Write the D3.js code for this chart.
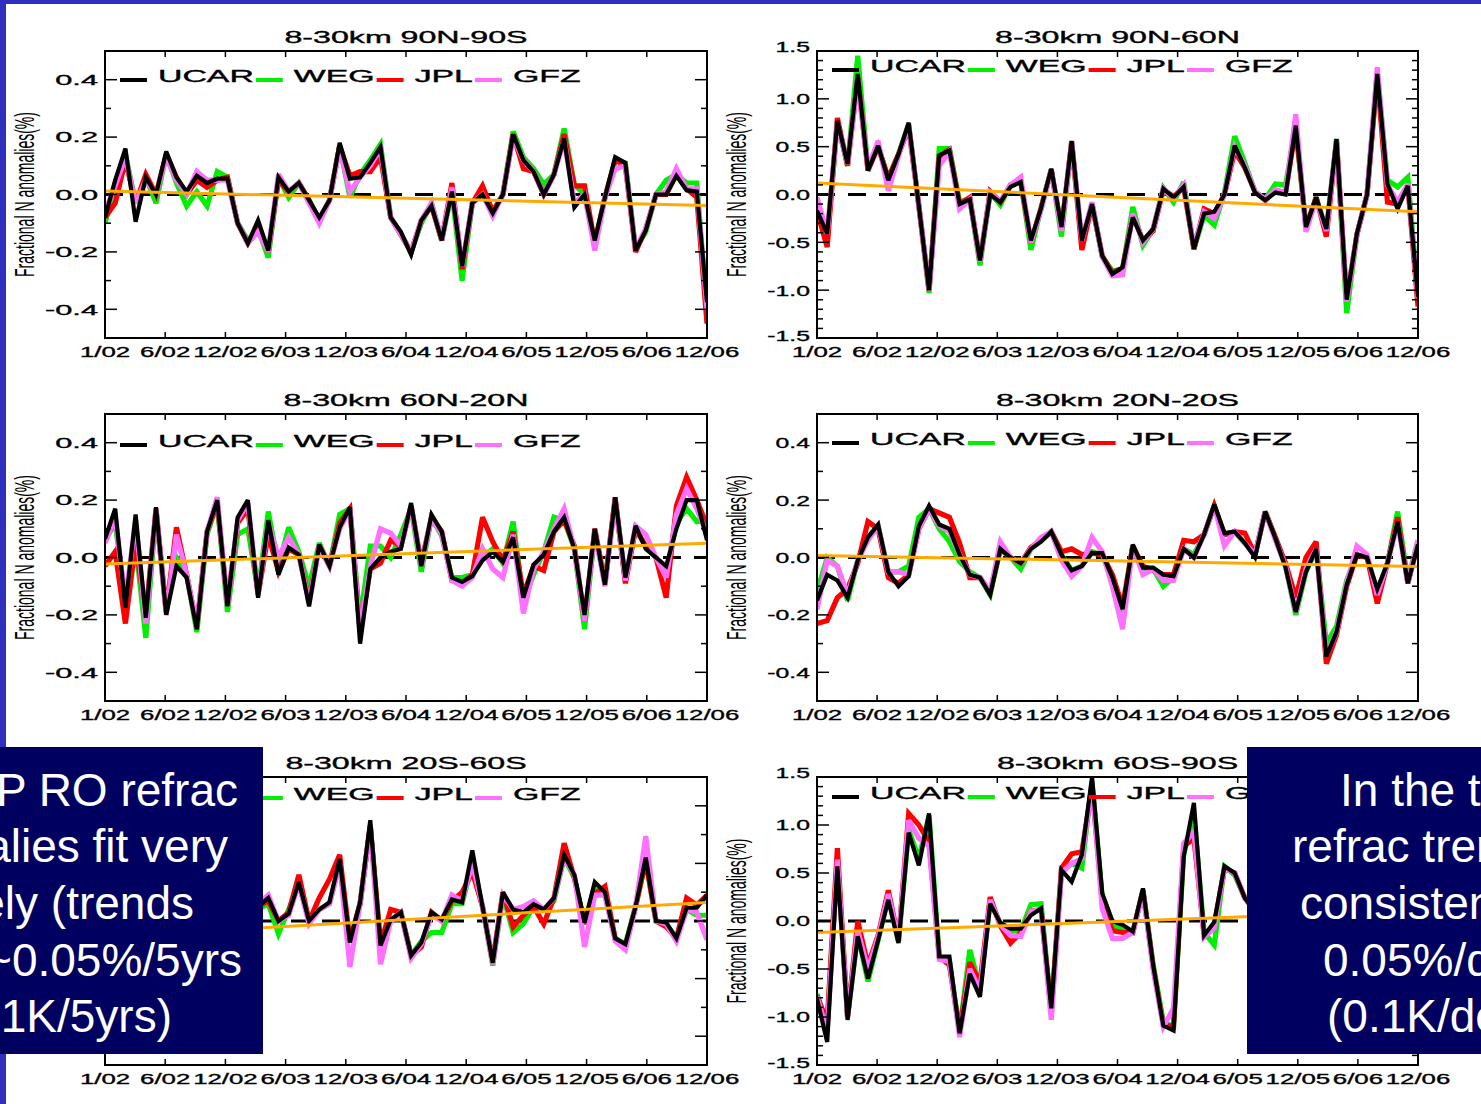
<!DOCTYPE html>
<html>
<head>
<meta charset="utf-8">
<script src="https://cdn.jsdelivr.net/npm/d3@7"></script>
<style>
  html, body { margin: 0; padding: 0; background: #fff; overflow: hidden; }
  svg { display: block; }
  text { font-family: "Liberation Sans", Arial, Helvetica, sans-serif; }
  .plottext { stroke: #000; stroke-width: 0.35px; }
</style>
</head>
<body>
<svg id="chart" width="1481" height="1104"></svg>
<script>
// ---- monthly index (Jan 2002 .. Dec 2006) and axis labels ----
const months = d3.range(60);
const xTickLabels = ["1/02", "6/02", "12/02", "6/03", "12/03", "6/04", "12/04", "6/05", "12/05", "6/06", "12/06"];
const centerNames = ["UCAR", "WEG", "JPL", "GFZ"];
const centerColors = ["#000000", "#00ee00", "#ff0000", "#ff70ff"];
const panelTitles = ["8-30km 90N-90S", "8-30km 90N-60N", "8-30km 60N-20N", "8-30km 20N-20S", "8-30km 20S-60S", "8-30km 60S-90S"];
const yLimits = [0.5, 1.5, 0.5, 0.5, 0.5, 1.5];
const yTickLabelsSmall = ["-0.4", "-0.2", "0.0", "0.2", "0.4"];
const yTickValuesSmall = [-0.4, -0.2, 0, 0.2, 0.4];
const yTickLabelsLarge = ["-1.5", "-1.0", "-0.5", "0.0", "0.5", "1.0", "1.5"];
const yTickValuesLarge = [-1.5, -1.0, -0.5, 0, 0.5, 1.0, 1.5];
const yAxisTitle = "Fractional N anomalies(%)";

// ---- fractional refractivity anomalies (%) per processing center ----
// 90N-90S
const ucarGlobal = [-0.08,0.05,0.16,-0.095,0.06,0.0,0.15,0.06,0.01,0.065,
  0.04,0.055,0.055,-0.1,-0.17,-0.09,-0.195,0.06,0.01,0.04,
  -0.02,-0.08,-0.02,0.18,0.055,0.06,0.11,0.165,-0.08,-0.13,
  -0.21,-0.09,-0.04,-0.16,0.01,-0.25,-0.03,0.0,-0.065,0.0,
  0.21,0.12,0.08,0.0,0.07,0.195,-0.045,0.0,-0.16,-0.01,
  0.13,0.11,-0.195,-0.125,0.0,0.0,0.065,0.015,0.01,-0.375];
const wegGlobal = [-0.1,0.04,0.14,-0.03,0.06,-0.03,0.14,0.04,-0.04,0.01,
  -0.04,0.08,0.06,-0.1,-0.16,-0.12,-0.22,0.06,-0.01,0.04,
  -0.02,-0.09,-0.02,0.17,-0.01,0.07,0.12,0.175,-0.08,-0.14,
  -0.2,-0.1,-0.03,-0.16,0.01,-0.3,-0.03,0.02,-0.06,0.0,
  0.22,0.13,0.09,0.035,0.07,0.23,0.035,0.0,-0.17,-0.01,
  0.12,0.11,-0.19,-0.13,0.0,0.05,0.07,0.04,0.04,-0.41];
const jplGlobal = [-0.08,-0.03,0.12,-0.03,0.07,0.0,0.14,0.06,0.0,0.05,
  0.025,0.05,0.06,-0.1,-0.17,-0.12,-0.2,0.05,0.01,0.04,
  -0.02,-0.09,-0.02,0.17,0.065,0.08,0.08,0.13,-0.08,-0.14,
  -0.2,-0.09,-0.04,-0.16,0.04,-0.26,-0.03,0.03,-0.06,0.0,
  0.21,0.09,0.08,0.0,0.07,0.21,0.03,0.03,-0.17,-0.01,
  0.12,0.1,-0.2,-0.12,0.0,0.0,0.07,0.02,-0.01,-0.45];
const gfzGlobal = [-0.06,0.03,0.13,-0.03,0.05,0.0,0.13,0.05,0.0,0.08,
  0.05,0.05,0.05,-0.1,-0.17,-0.13,-0.2,0.07,0.01,0.04,
  -0.03,-0.1,-0.02,0.16,0.01,0.06,0.1,0.16,-0.08,-0.14,
  -0.2,-0.09,-0.03,-0.16,0.025,-0.25,-0.03,0.0,-0.075,0.0,
  0.2,0.12,0.08,0.0,0.07,0.19,-0.03,0.0,-0.195,-0.01,
  0.09,0.1,-0.19,-0.12,0.0,0.01,0.09,0.02,0.02,-0.4];

// 90N-60N
const ucarNPole = [-0.17,-0.41,0.77,0.32,1.26,0.25,0.51,0.15,0.42,0.75,
  -0.12,-1.0,0.41,0.46,-0.1,-0.05,-0.69,0.0,-0.08,0.08,
  0.13,-0.48,-0.14,0.27,-0.34,0.56,-0.48,-0.1,-0.64,-0.83,
  -0.76,-0.24,-0.48,-0.36,0.06,-0.03,0.08,-0.57,-0.2,-0.18,
  0.0,0.51,0.28,0.02,-0.06,0.02,0.0,0.72,-0.34,-0.03,
  -0.36,0.58,-1.1,-0.41,0.0,1.26,0.11,-0.15,0.09,-1.07];
const wegNPole = [-0.2,-0.45,0.75,0.3,1.45,0.27,0.5,0.17,0.42,0.74,
  -0.12,-1.03,0.48,0.48,-0.08,-0.04,-0.74,0.02,-0.11,0.1,
  0.14,-0.58,-0.14,0.26,-0.44,0.55,-0.5,-0.1,-0.65,-0.8,
  -0.78,-0.13,-0.53,-0.36,0.07,-0.08,0.13,-0.57,-0.22,-0.32,
  0.02,0.61,0.33,0.03,-0.05,0.11,0.1,0.72,-0.35,-0.03,
  -0.38,0.58,-1.24,-0.42,0.0,1.28,0.15,0.08,0.18,-1.05];
const jplNPole = [-0.17,-0.55,0.8,0.3,1.22,0.25,0.5,0.17,0.42,0.7,
  -0.12,-1.0,0.4,0.47,-0.1,-0.03,-0.7,0.03,-0.08,0.1,
  0.13,-0.5,-0.14,0.26,-0.36,0.55,-0.58,-0.1,-0.64,-0.82,
  -0.77,-0.22,-0.48,-0.38,0.05,-0.02,0.07,-0.57,-0.15,-0.2,
  0.0,0.45,0.28,0.03,-0.06,0.04,0.02,0.7,-0.34,-0.03,
  -0.44,0.56,-1.1,-0.42,0.0,1.25,-0.08,-0.1,0.09,-1.17];
const gfzNPole = [-0.03,-0.41,0.74,0.32,1.2,0.27,0.56,0.04,0.4,0.73,
  -0.12,-1.0,0.3,0.45,-0.15,-0.05,-0.7,0.02,-0.07,0.1,
  0.18,-0.5,-0.16,0.25,-0.38,0.55,-0.48,-0.08,-0.65,-0.85,
  -0.84,-0.2,-0.5,-0.36,0.06,-0.04,0.1,-0.55,-0.18,-0.25,
  0.0,0.5,0.3,0.03,-0.05,0.05,0.02,0.84,-0.39,-0.05,
  -0.38,0.56,-1.12,-0.42,0.0,1.33,0.1,-0.08,0.11,-1.08];

// 60N-20N
const ucarNMid = [0.065,0.17,-0.175,0.15,-0.21,0.175,-0.2,-0.03,-0.07,-0.25,
  0.09,0.2,-0.17,0.14,0.2,-0.14,0.13,-0.06,0.035,0.01,
  -0.17,0.045,-0.03,0.105,0.175,-0.3,-0.04,0.0,0.02,0.03,
  0.19,-0.03,0.15,0.09,-0.07,-0.085,-0.065,-0.01,0.02,-0.015,
  0.07,-0.14,-0.025,0.01,0.09,0.14,0.03,-0.2,0.1,-0.095,
  0.21,-0.07,0.11,0.03,0.0,-0.03,0.1,0.2,0.2,0.06];
const wegNMid = [0.06,0.12,-0.15,0.05,-0.28,0.16,-0.19,0.0,-0.06,-0.26,
  0.08,0.19,-0.19,0.08,0.1,-0.12,0.16,-0.03,0.105,0.02,
  -0.1,0.05,-0.03,0.15,0.17,-0.22,0.04,0.04,0.0,0.08,
  0.17,-0.05,0.14,0.075,-0.07,-0.07,-0.06,0.0,0.03,-0.02,
  0.125,-0.15,-0.06,0.02,0.14,0.13,0.03,-0.25,0.09,-0.09,
  0.2,-0.08,0.1,0.04,0.0,-0.05,0.12,0.17,0.125,0.13];
const jplNMid = [-0.03,0.02,-0.23,0.05,-0.2,0.17,-0.19,0.105,-0.06,-0.24,
  0.09,0.19,-0.16,0.12,0.17,-0.13,0.08,-0.05,0.03,0.01,
  -0.15,0.04,-0.03,0.12,0.17,-0.26,-0.04,-0.02,0.06,0.04,
  0.18,-0.02,0.14,0.09,-0.08,-0.09,-0.06,0.14,0.055,-0.01,
  0.09,-0.13,-0.03,-0.045,0.09,0.13,0.04,-0.22,0.1,-0.09,
  0.21,-0.09,0.1,0.04,0.0,-0.14,0.18,0.28,0.2,0.11];
const gfzNMid = [0.05,0.14,-0.15,0.13,-0.23,0.17,-0.2,0.08,-0.06,-0.24,
  0.09,0.21,-0.17,0.13,0.19,-0.13,0.12,0.0,0.07,0.01,
  -0.16,0.04,-0.03,0.1,0.17,-0.26,-0.03,0.1,0.085,0.04,
  0.18,-0.03,0.14,0.08,-0.08,-0.1,-0.07,0.03,-0.04,-0.07,
  0.08,-0.195,-0.04,0.02,0.1,0.17,0.03,-0.22,0.09,-0.1,
  0.2,-0.08,0.11,0.08,0.0,-0.07,0.15,0.24,0.17,0.08];

// 20N-20S
const ucarTrop = [-0.15,-0.06,-0.08,-0.14,-0.01,0.07,0.115,-0.05,-0.1,-0.065,
  0.11,0.18,0.115,0.1,0.01,-0.06,-0.07,-0.13,0.03,0.0,
  -0.02,0.03,0.055,0.09,0.01,-0.045,-0.03,0.015,0.015,-0.07,
  -0.18,0.045,-0.035,-0.035,-0.06,-0.065,0.03,0.0,0.08,0.185,
  0.085,0.09,0.05,0.0,0.16,0.067,-0.035,-0.19,-0.05,0.03,
  -0.345,-0.26,-0.095,0.01,0.0,-0.11,-0.02,0.125,-0.09,0.045];
const wegTrop = [-0.12,0.0,-0.03,-0.15,-0.01,0.07,0.11,-0.05,-0.05,-0.03,
  0.14,0.17,0.1,0.055,-0.015,-0.05,-0.07,-0.13,0.03,0.0,
  -0.04,0.03,0.06,0.09,0.01,-0.045,-0.03,0.02,0.01,-0.08,
  -0.19,0.04,-0.04,-0.04,-0.1,-0.07,0.03,0.01,0.08,0.18,
  0.08,0.09,0.05,0.01,0.16,0.07,-0.03,-0.2,-0.05,0.03,
  -0.3,-0.24,-0.08,0.01,0.0,-0.12,-0.02,0.16,-0.08,0.06];
const jplTrop = [-0.23,-0.22,-0.14,-0.11,-0.02,0.125,0.1,-0.07,-0.09,-0.06,
  0.1,0.17,0.155,0.14,0.05,-0.07,-0.07,-0.12,0.03,0.0,
  -0.02,0.035,0.06,0.09,0.02,0.03,0.01,0.015,0.01,-0.06,
  -0.17,0.04,-0.03,-0.045,-0.06,-0.06,0.06,0.055,0.08,0.18,
  0.08,0.09,0.085,0.01,0.16,0.07,-0.02,-0.14,0.0,0.055,
  -0.37,-0.27,-0.1,0.01,0.0,-0.16,-0.02,0.14,-0.09,0.05];
const gfzTrop = [-0.18,-0.01,-0.03,-0.13,-0.01,0.06,0.11,-0.05,-0.05,-0.06,
  0.1,0.17,0.11,0.09,0.01,-0.06,-0.07,-0.12,0.055,0.0,
  -0.02,0.03,0.07,0.09,-0.01,-0.065,-0.03,0.07,0.02,-0.1,
  -0.25,0.04,-0.06,-0.04,-0.08,-0.08,0.03,0.0,0.08,0.18,
  0.04,0.09,0.05,0.01,0.16,0.06,-0.03,-0.19,-0.04,0.03,
  -0.34,-0.26,-0.09,0.04,0.01,-0.13,-0.02,0.12,-0.09,0.06];

// 20S-60S
const ucarSMid = [0.04,-0.05,0.08,0.02,-0.07,0.1,0.03,-0.09,0.06,0.12,
  -0.03,0.05,0.14,-0.06,0.02,0.05,0.08,0.0,0.025,0.135,
  0.0,0.04,0.065,0.215,-0.075,0.065,0.35,-0.085,0.005,0.03,
  -0.12,-0.075,0.03,0.005,0.075,0.065,0.245,0.05,-0.145,0.1,
  0.04,0.03,0.058,0.04,0.08,0.23,0.16,-0.005,0.135,0.1,
  -0.06,-0.08,0.05,0.22,0.0,-0.005,-0.06,0.046,0.046,0.09];
const wegSMid = [0.03,-0.04,0.07,0.03,-0.06,0.09,0.04,-0.08,0.05,0.11,
  -0.02,0.05,0.13,-0.05,0.02,0.04,0.06,-0.045,0.04,0.13,
  0.0,0.04,0.06,0.2,-0.07,0.06,0.33,-0.08,0.0,0.03,
  -0.12,-0.07,-0.04,-0.04,0.06,0.06,0.2,0.05,-0.155,0.09,
  -0.04,-0.01,0.05,0.04,0.07,0.22,0.15,-0.01,0.12,0.09,
  -0.06,-0.08,0.05,0.21,0.0,-0.01,-0.06,0.04,0.02,0.02];
const jplSMid = [0.05,-0.05,0.08,0.02,-0.07,0.1,0.03,-0.08,0.06,0.11,
  -0.03,0.05,0.14,-0.05,0.02,0.05,0.07,0.0,0.03,0.16,
  0.0,0.08,0.145,0.23,-0.07,0.06,0.33,-0.08,0.04,0.03,
  -0.12,-0.09,0.03,0.0,0.07,0.1,0.17,0.05,-0.14,0.1,
  -0.02,0.02,0.05,-0.01,0.08,0.27,0.15,-0.01,0.095,0.12,
  -0.06,-0.09,0.05,0.21,0.0,-0.02,-0.06,0.08,0.055,0.09];
const gfzSMid = [0.04,-0.05,0.07,0.02,-0.07,0.1,0.03,-0.09,0.06,0.12,
  -0.03,0.04,0.14,-0.06,0.03,0.06,0.09,0.0,0.02,0.13,
  -0.01,0.04,0.06,0.2,-0.16,0.06,0.33,-0.15,0.0,0.03,
  -0.13,-0.08,0.02,0.0,0.09,0.07,0.2,0.05,-0.15,0.09,
  0.04,0.05,0.07,0.04,0.08,0.22,0.16,-0.09,0.09,0.09,
  -0.07,-0.1,0.05,0.295,0.0,-0.01,-0.07,0.04,0.03,-0.065];

// 60S-90S
const ucarSPole = [-0.81,-1.26,0.57,-1.03,-0.16,-0.6,-0.2,0.22,-0.23,0.92,
  0.58,1.12,-0.37,-0.37,-1.17,-0.55,-0.79,0.18,-0.02,-0.08,
  -0.08,0.06,0.13,-0.91,0.53,0.41,0.69,1.5,0.29,0.0,
  -0.04,-0.11,0.34,-0.46,-1.09,-1.14,0.67,1.23,-0.15,-0.01,
  0.57,0.5,0.24,0.1,-0.3,0.45,-0.2,0.15,-0.55,0.35,
  0.6,-0.45,0.2,-0.1,0.5,-0.6,0.3,0.1,-0.25,0.2];
const wegSPole = [-0.76,-1.1,0.65,-1.0,-0.14,-0.63,-0.2,0.25,-0.22,0.95,
  0.65,1.1,-0.37,-0.42,-1.15,-0.3,-0.7,0.2,-0.02,-0.1,
  -0.1,0.17,0.18,-0.95,0.53,0.6,0.55,1.45,0.25,-0.05,
  -0.07,-0.12,0.32,-0.45,-1.05,-1.1,0.7,1.1,-0.12,-0.25,
  0.57,0.48,0.24,0.1,-0.3,0.45,-0.2,0.15,-0.55,0.35,
  0.6,-0.45,0.2,-0.1,0.5,-0.6,0.3,0.1,-0.25,0.2];
const jplSPole = [-0.78,-1.05,0.76,-1.0,0.0,-0.46,-0.15,0.32,-0.2,1.12,
  1.0,0.83,-0.37,-0.46,-1.15,-0.43,-0.65,0.25,-0.05,-0.23,
  -0.12,0.1,0.12,-0.95,0.55,0.7,0.72,1.4,0.2,-0.1,
  -0.12,-0.12,0.32,-0.48,-1.08,-1.1,0.78,0.86,-0.14,-0.05,
  0.55,0.5,0.24,0.1,-0.3,0.45,-0.2,0.15,-0.55,0.35,
  0.6,-0.45,0.2,-0.1,0.5,-0.6,0.3,0.1,-0.25,0.2];
const gfzSPole = [-0.79,-1.15,0.64,-1.0,-0.1,-0.5,-0.17,0.28,-0.2,1.05,
  0.86,0.78,-0.4,-0.42,-1.21,-0.5,-0.72,0.22,-0.04,-0.15,
  -0.16,0.1,0.12,-1.03,0.5,0.6,0.65,1.42,0.13,-0.18,
  -0.18,-0.12,0.3,-0.5,-1.1,-0.91,0.81,0.93,-0.17,-0.07,
  0.55,0.5,0.24,0.1,-0.3,0.45,-0.2,0.15,-0.55,0.35,
  0.6,-0.45,0.2,-0.1,0.5,-0.6,0.3,0.1,-0.25,0.2];

// linear trend (start, end) of each latitude band
const trendEnds = [[0.012, -0.038], [0.12, -0.18], [-0.023, 0.05], [0.007, -0.031], [-0.054, 0.064], [-0.12, 0.11]];

// text boxes laid over the lower corners
const leftNote = ["CHAMP RO refrac", "anomalies fit very", "closely (trends", "~0.05%/5yrs", "(~0.1K/5yrs)"];
const rightNote = ["In the tropics", "refrac trends are", "consistent with", "0.05%/decade", "(0.1K/decade)"];

// ---------------------------------------------------------------
const panelSeries = [
  [ucarGlobal, wegGlobal, jplGlobal, gfzGlobal],
  [ucarNPole, wegNPole, jplNPole, gfzNPole],
  [ucarNMid, wegNMid, jplNMid, gfzNMid],
  [ucarTrop, wegTrop, jplTrop, gfzTrop],
  [ucarSMid, wegSMid, jplSMid, gfzSMid],
  [ucarSPole, wegSPole, jplSPole, gfzSPole]
];

const W = 1481, H = 1104;
const svg = d3.select("#chart");
svg.append("rect").attr("width", W).attr("height", H).attr("fill", "#ffffff");
// slide frame
svg.append("rect").attr("x", 0).attr("y", 0).attr("width", W).attr("height", 4).attr("fill", "#2f2fbd");
svg.append("rect").attr("x", 0).attr("y", 0).attr("width", 6).attr("height", H).attr("fill", "#2f2fbd");

const colX = [[105, 707], [817, 1418]];
const rowY = [[51, 338], [414, 701], [777, 1065]];
const legendDrop = [29, 19, 31, 29, 21, 20];
const yLabelStretch = [2.05, 1.65];
const drawOrder = [1, 2, 3, 0]; // colored centers first, UCAR on top

panelTitles.forEach((title, p) => {
  const col = p % 2, row = Math.floor(p / 2);
  const [x0, x1] = colX[col];
  const [y0, y1] = rowY[row];
  const lim = yLimits[p];
  const x = d3.scaleLinear().domain([0, 59]).range([x0, x1]);
  const y = d3.scaleLinear().domain([-lim, lim]).range([y1, y0]);
  const g = svg.append("g");

  const clipId = "plotclip" + p;
  svg.append("clipPath").attr("id", clipId)
    .append("rect").attr("x", x0).attr("y", y0).attr("width", x1 - x0).attr("height", y1 - y0);
  const plot = g.append("g").attr("clip-path", `url(#${clipId})`);

  // zero reference
  plot.append("line")
    .attr("x1", x0).attr("x2", x1).attr("y1", y(0)).attr("y2", y(0))
    .attr("stroke", "#000").attr("stroke-width", 3).attr("stroke-dasharray", "18,13");

  // series
  const line = d3.line().x((d, i) => x(months[i])).y(d => y(d));
  drawOrder.forEach(k => {
    plot.append("path")
      .datum(panelSeries[p][k])
      .attr("d", line)
      .attr("fill", "none")
      .attr("stroke", centerColors[k])
      .attr("stroke-width", k === 0 ? 4.2 : 5.2)
      .attr("stroke-linejoin", "miter")
      .attr("stroke-miterlimit", 3);
  });

  // trend
  plot.append("line")
    .attr("x1", x(0)).attr("x2", x(59))
    .attr("y1", y(trendEnds[p][0])).attr("y2", y(trendEnds[p][1]))
    .attr("stroke", "#ffaa00").attr("stroke-width", 3);

  // frame
  g.append("rect").attr("x", x0).attr("y", y0).attr("width", x1 - x0).attr("height", y1 - y0)
    .attr("fill", "none").attr("stroke", "#000").attr("stroke-width", 2);

  // y ticks (major + minor every 0.1), mirrored on both sides
  const majors = lim > 1 ? yTickValuesLarge : yTickValuesSmall;
  const majorLabels = lim > 1 ? yTickLabelsLarge : yTickLabelsSmall;
  const minors = d3.range(-Math.round(lim * 10) + 1, Math.round(lim * 10)).map(v => v / 10)
    .filter(v => !majors.some(m => Math.abs(m - v) < 1e-6));
  const tickG = g.append("g").attr("stroke", "#000").attr("stroke-width", 1.5);
  majors.forEach(v => {
    tickG.append("line").attr("x1", x0).attr("x2", x0 + 12).attr("y1", y(v)).attr("y2", y(v));
    tickG.append("line").attr("x1", x1 - 12).attr("x2", x1).attr("y1", y(v)).attr("y2", y(v));
  });
  minors.forEach(v => {
    tickG.append("line").attr("x1", x0).attr("x2", x0 + 6).attr("y1", y(v)).attr("y2", y(v));
    tickG.append("line").attr("x1", x1 - 6).attr("x2", x1).attr("y1", y(v)).attr("y2", y(v));
  });
  // x ticks
  const xTickPos = xTickLabels.map((_, k) => k * 59 / 10);
  xTickPos.forEach(t => {
    tickG.append("line").attr("x1", x(t)).attr("x2", x(t)).attr("y1", y1).attr("y2", y1 - 6);
    tickG.append("line").attr("x1", x(t)).attr("x2", x(t)).attr("y1", y0).attr("y2", y0 + 6);
  });

  // y tick labels (the outermost labels sit a little inside the frame)
  majors.forEach((v, k) => {
    const nudge = lim > 1 ? (v === lim ? -4 : v === -lim ? -2 : 0) : 0;
    g.append("text").attr("class", "plottext")
      .attr("transform", `translate(${x0 - 7},${y(v) + nudge}) scale(${yLabelStretch[col]},1)`)
      .attr("text-anchor", "end").attr("dominant-baseline", "central")
      .attr("font-size", 15).attr("fill", "#000")
      .text(majorLabels[k]);
  });
  // x tick labels
  xTickPos.forEach((t, k) => {
    g.append("text").attr("class", "plottext")
      .attr("transform", `translate(${x(t)},${y1 + 19}) scale(1.72,1)`)
      .attr("text-anchor", "middle")
      .attr("font-size", 15).attr("fill", "#000")
      .text(xTickLabels[k]);
  });
  // title
  g.append("text").attr("class", "plottext")
    .attr("transform", `translate(${(x0 + x1) / 2},${y0 - 8}) scale(1.95,1)`)
    .attr("text-anchor", "middle").attr("font-size", 16.5).attr("fill", "#000")
    .text(title);
  // y axis title
  g.append("text")
    .attr("transform", `translate(${x0 - 80},${(y0 + y1) / 2}) scale(1.95,1) rotate(-90)`)
    .attr("text-anchor", "middle").attr("dominant-baseline", "central")
    .attr("font-size", 14).attr("fill", "#000")
    .text(yAxisTitle);

  // legend
  let lx = x0 + 15;
  const ly = y0 + legendDrop[p];
  centerNames.forEach((name, k) => {
    g.append("line").attr("x1", lx).attr("x2", lx + 27).attr("y1", ly).attr("y2", ly)
      .attr("stroke", centerColors[k]).attr("stroke-width", 4);
    const t = g.append("text").attr("class", "plottext")
      .attr("transform", `translate(${lx + 38},${ly + 2}) scale(2.05,1)`)
      .attr("font-size", 16.5).attr("fill", "#000")
      .text(name);
    lx = lx + 38 + t.node().getComputedTextLength() * 2.05 + 2;
  });
});

// note boxes
const navy = "#000060";
svg.append("rect").attr("x", 0).attr("y", 747).attr("width", 263).attr("height", 307).attr("fill", navy);
svg.append("rect").attr("x", 1247).attr("y", 747).attr("width", 240).attr("height", 307).attr("fill", navy);
const noteBase = [806, 862, 919, 976, 1032];
const leftEnds = [238, 228, 194, 242, 172];
const rightStarts = [1340, 1292, 1300, 1323, 1327];
leftNote.forEach((s, k) => {
  svg.append("text").attr("x", leftEnds[k]).attr("y", noteBase[k])
    .attr("text-anchor", "end").attr("font-size", 46).attr("fill", "#fff").text(s);
});
rightNote.forEach((s, k) => {
  svg.append("text").attr("x", rightStarts[k]).attr("y", noteBase[k])
    .attr("text-anchor", "start").attr("font-size", 46).attr("fill", "#fff").text(s);
});
</script>
</body>
</html>
